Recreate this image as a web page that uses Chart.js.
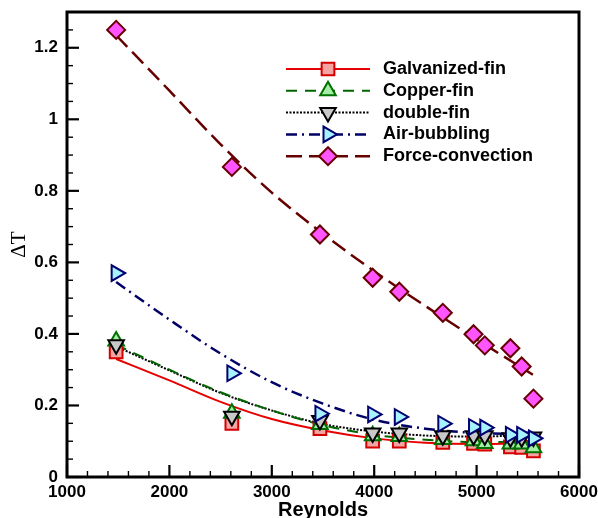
<!DOCTYPE html>
<html>
<head>
<meta charset="utf-8">
<script src="https://cdn.jsdelivr.net/npm/chart.js@4.4.1/dist/chart.umd.min.js"></script>
<style>
  html, body { margin: 0; padding: 0; background: #fff; }
  #wrap { width: 598px; height: 518px; }
</style>
</head>
<body>
<div id="wrap"><canvas id="chart" width="598" height="518"></canvas></div>
<script>
// Measured points (markers)
const reynolds = [1480, 2610, 3470, 3985, 4245, 4670, 4970, 5080, 5330, 5440, 5555];
const galvanized = [0.35, 0.15, 0.135, 0.10, 0.10, 0.097, 0.094, 0.092, 0.084, 0.083, 0.073];
const copper = [0.38, 0.178, 0.147, 0.115, 0.113, 0.105, 0.101, 0.094, 0.092, 0.092, 0.082];
const doubleFin = [0.37, 0.17, 0.158, 0.123, 0.123, 0.115, 0.115, 0.115, 0.11, 0.11, 0.112];
const airBubbling = [0.57, 0.29, 0.177, 0.175, 0.168, 0.149, 0.14, 0.138, 0.118, 0.118, 0.108];
const forceConvection = [1.25, 0.867, 0.678, 0.557, 0.518, 0.459, 0.399, 0.368, 0.36, 0.309, 0.219];

// Fitted curves
const fitReynolds = [1480, 2000, 2500, 3000, 3500, 4000, 4500, 5000, 5550];
const galvanizedFit = [0.33, 0.27, 0.21, 0.162, 0.13, 0.108, 0.096, 0.092, 0.095];
const copperFit = [0.37, 0.30, 0.237, 0.186, 0.145, 0.118, 0.104, 0.098, 0.098];
const doubleFinFit = [0.365, 0.298, 0.235, 0.186, 0.148, 0.127, 0.116, 0.113, 0.118];
const airBubblingFit = [0.545, 0.44, 0.345, 0.265, 0.205, 0.16, 0.135, 0.123, 0.12];
const forceConvectionFit = [1.235, 1.08, 0.93, 0.795, 0.68, 0.575, 0.478, 0.385, 0.286];

const seriesNames = ['Galvanized-fin', 'Copper-fin', 'double-fin', 'Air-bubbling', 'Force-convection'];
const xTicks = [1000, 2000, 3000, 4000, 5000, 6000];
const yTicks = [0, 0.2, 0.4, 0.6, 0.8, 1, 1.2];

const seriesValues = [galvanized, copper, doubleFin, airBubbling, forceConvection];
const seriesFits = [galvanizedFit, copperFit, doubleFinFit, airBubblingFit, forceConvectionFit];

// Look of each series
const styles = [
    { line: '#e60000', dash: [], width: 2, fill: '#f5a3a3', border: '#d40000', shape: 'rect', rot: 0, r: 9, order: 3 },
    { line: '#006400', dash: [11, 8], width: 2, fill: '#a3eea3', border: '#007000', shape: 'triangle', rot: 0, r: 9, order: 2 },
    { line: '#000000', dash: [2, 1.5], width: 2, fill: '#c8c8c8', border: '#000000', shape: 'triangle', rot: 180, r: 9, order: 1 },
    { line: '#000066', dash: [11, 5, 2, 5], width: 2.5, fill: '#a6f2ff', border: '#000070', shape: 'triangle', rot: 90, r: 9, order: 0 },
    { line: '#660000', dash: [16, 7], width: 2.5, fill: '#ff55ff', border: '#660000', shape: 'rectRot', r: 9, rot: 0, order: 0 }
];

const datasets = [];
seriesNames.forEach(function(name, i) {
    const s = styles[i];
    datasets.push({
        label: name + ' fit',
        data: fitReynolds.map((x, k) => ({ x: x, y: seriesFits[i][k] })),
        borderColor: s.line,
        borderWidth: s.width,
        borderDash: s.dash,
        pointRadius: 0,
        cubicInterpolationMode: 'monotone',
        fill: false,
        order: 10
    });
    datasets.push({
        label: name,
        data: reynolds.map((x, k) => ({ x: x, y: seriesValues[i][k] })),
        showLine: false,
        pointStyle: s.shape,
        pointRotation: s.rot,
        pointRadius: s.r,
        pointBackgroundColor: s.fill,
        pointBorderColor: s.border,
        pointBorderWidth: 2,
        order: s.order
    });
});

function drawMarker(ctx, s, x, y) {
    const r = s.r;
    ctx.beginPath();
    if (s.shape === 'rect') {
        const h = r * Math.SQRT1_2;
        ctx.rect(x - h, y - h, 2 * h, 2 * h);
    } else if (s.shape === 'rectRot') {
        ctx.moveTo(x - r, y); ctx.lineTo(x, y - r); ctx.lineTo(x + r, y); ctx.lineTo(x, y + r);
        ctx.closePath();
    } else {
        let rad = s.rot * Math.PI / 180;
        ctx.moveTo(x + Math.sin(rad) * r, y - Math.cos(rad) * r);
        rad += 2 * Math.PI / 3;
        ctx.lineTo(x + Math.sin(rad) * r, y - Math.cos(rad) * r);
        rad += 2 * Math.PI / 3;
        ctx.lineTo(x + Math.sin(rad) * r, y - Math.cos(rad) * r);
        ctx.closePath();
    }
    ctx.fillStyle = s.fill;
    ctx.fill();
    ctx.setLineDash([]);
    ctx.lineWidth = 2;
    ctx.strokeStyle = s.border;
    ctx.stroke();
}

// Frame with inward ticks (major + minor)
const frameTicks = {
    id: 'frameTicks',
    afterDatasetsDraw(chart) {
        const { ctx, chartArea: a, scales: { x, y } } = chart;
        ctx.save();
        ctx.strokeStyle = '#000';
        for (let v = 1000; v <= 6000; v += 200) {
            const px = x.getPixelForValue(v);
            const major = v % 1000 === 0;
            ctx.lineWidth = major ? 2.2 : 1.4;
            ctx.beginPath();
            ctx.moveTo(px, a.bottom);
            ctx.lineTo(px, a.bottom - (major ? 12 : 6));
            ctx.stroke();
        }
        for (let i = 0; i <= 26; i++) {
            const py = y.getPixelForValue(i * 0.05);
            const major = i % 4 === 0;
            ctx.lineWidth = major ? 2.2 : 1.4;
            ctx.beginPath();
            ctx.moveTo(a.left, py);
            ctx.lineTo(a.left + (major ? 12 : 6), py);
            ctx.stroke();
        }
        ctx.lineWidth = 3;
        ctx.strokeRect(a.left, a.top, a.right - a.left, a.bottom - a.top);
        ctx.restore();
    }
};

// Legend inside the plot: line sample + marker + label
const insideLegend = {
    id: 'insideLegend',
    afterDraw(chart) {
        const ctx = chart.ctx;
        ctx.save();
        seriesNames.forEach(function(name, i) {
            const s = styles[i];
            const yy = 69 + i * 21.8;
            ctx.beginPath();
            ctx.setLineDash(s.dash);
            ctx.lineWidth = s.width;
            ctx.strokeStyle = s.line;
            ctx.moveTo(286, yy);
            ctx.lineTo(370, yy);
            ctx.stroke();
            drawMarker(ctx, s, 328, yy);
            ctx.fillStyle = '#000';
            ctx.font = 'bold 18px "Liberation Sans", Arial, sans-serif';
            ctx.textBaseline = 'middle';
            ctx.textAlign = 'left';
            ctx.fillText(name, 383, yy);
        });
        ctx.restore();
    }
};

const tickFont = { family: '"Liberation Sans", Arial, sans-serif', size: 17, weight: 'bold' };

new Chart(document.getElementById('chart'), {
    type: 'line',
    data: { datasets: datasets },
    options: {
        responsive: false,
        animation: false,
        layout: { padding: { top: 12, right: 19, left: 0, bottom: 0 } },
        plugins: { legend: { display: false }, tooltip: { enabled: false } },
        scales: {
            x: {
                type: 'linear',
                min: 1000,
                max: 6000,
                afterFit: function(s) { s.height = 41; s.paddingLeft = 0; s.paddingRight = 0; },
                afterBuildTicks: function(s) { s.ticks = xTicks.map(v => ({ value: v })); },
                grid: { display: false, drawTicks: false },
                border: { display: false },
                ticks: { color: '#000', font: tickFont, padding: 5, maxRotation: 0, autoSkip: false, callback: v => String(v) },
                title: {
                    display: true,
                    text: 'Reynolds',
                    color: '#000',
                    font: { family: '"Liberation Sans", Arial, sans-serif', size: 20, weight: 'bold' },
                    padding: { top: 0, bottom: -4 }
                }
            },
            y: {
                type: 'linear',
                min: 0,
                max: 1.3,
                afterFit: function(s) { s.width = 67; s.paddingTop = 0; s.paddingBottom = 0; },
                afterBuildTicks: function(s) { s.ticks = yTicks.map(v => ({ value: v })); },
                grid: { display: false, drawTicks: false },
                border: { display: false },
                ticks: { color: '#000', font: tickFont, padding: 9, autoSkip: false, callback: v => String(v) },
                title: {
                    display: true,
                    text: 'ΔT',
                    color: '#000',
                    font: { family: '"Liberation Serif", "Times New Roman", serif', size: 21, weight: 'normal' },
                    padding: { top: 7, bottom: 0 }
                }
            }
        }
    },
    plugins: [frameTicks, insideLegend]
});
</script>
</body>
</html>
